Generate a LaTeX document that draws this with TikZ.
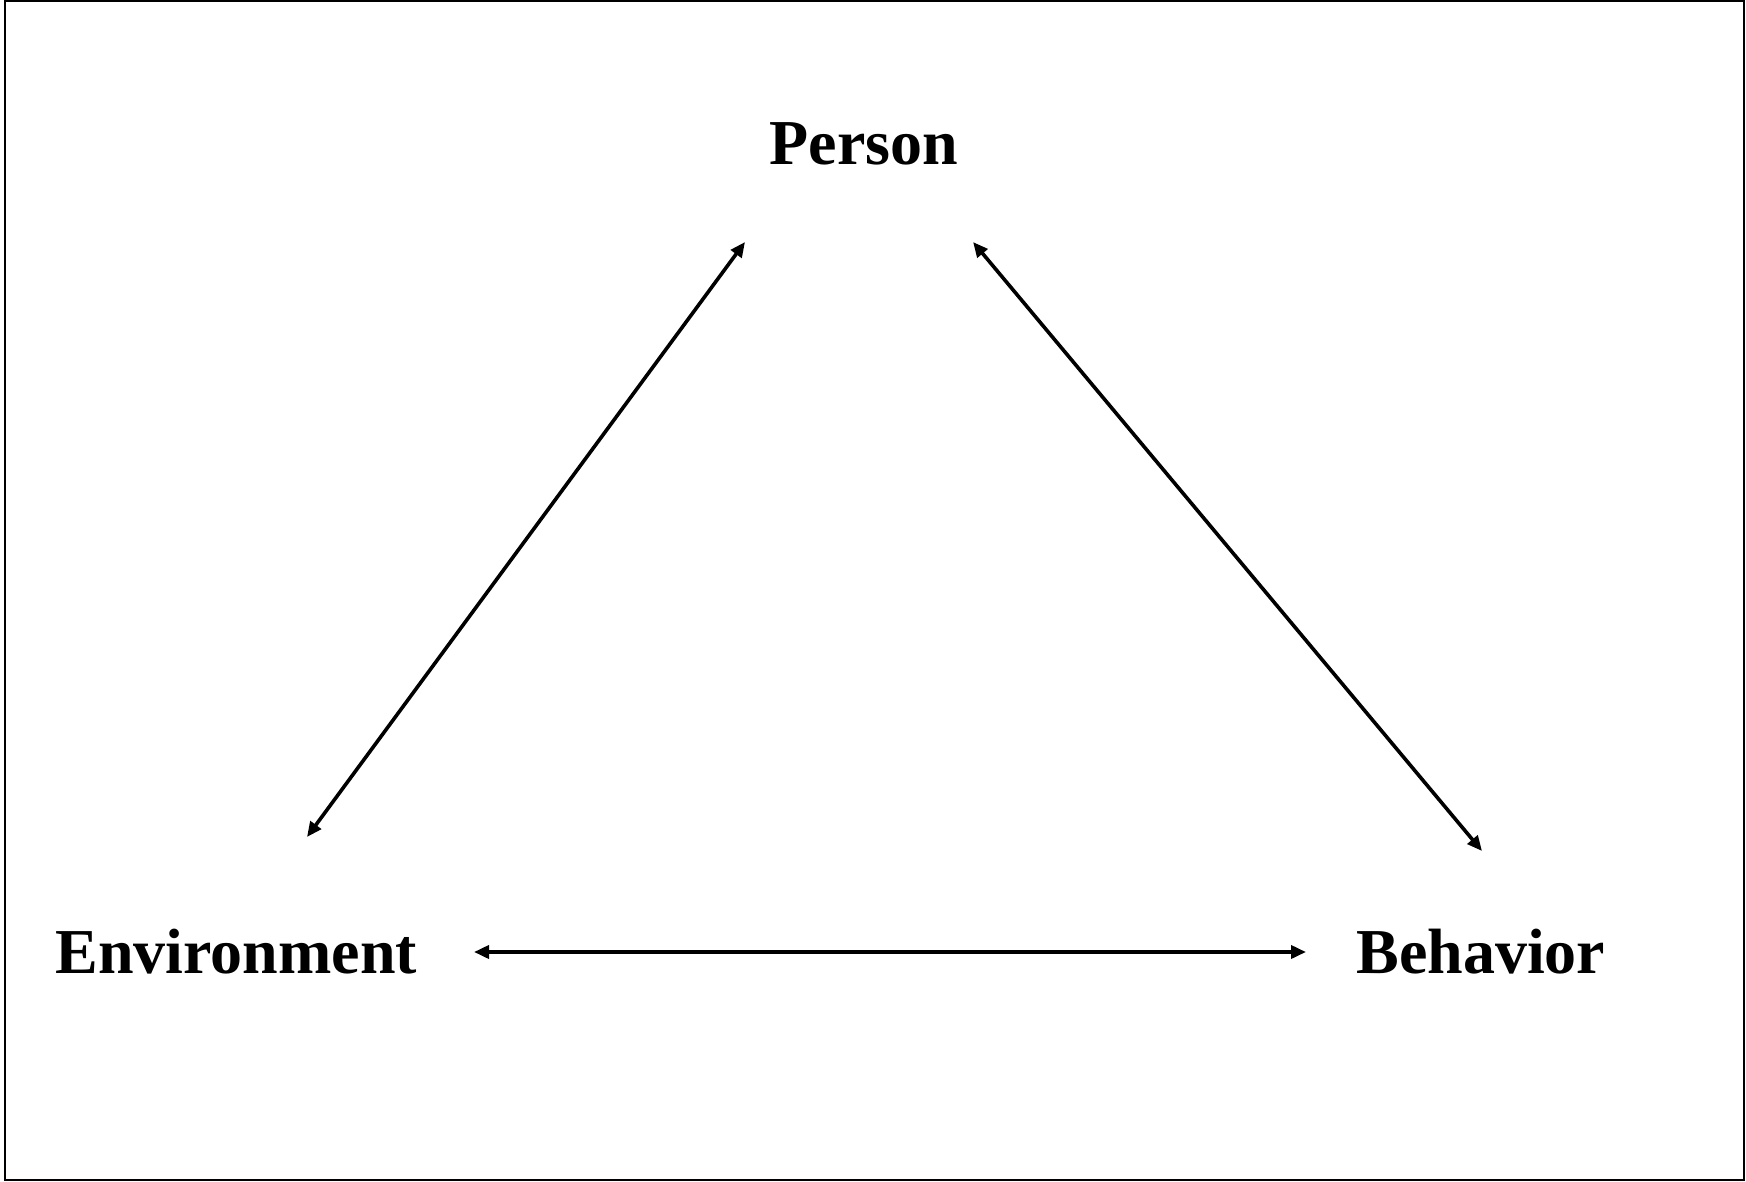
\documentclass[tikz,border=0pt]{standalone}
\usepackage{fontspec}
\setmainfont{Liberation Serif}
\usetikzlibrary{arrows.meta}
\begin{document}
\begin{tikzpicture}[x=0.5pt,y=-0.5pt,
  label/.style={font=\bfseries\fontsize{32}{38}\selectfont, inner sep=0pt},
  link/.style={line width=1.8pt, {Triangle[length=7.5pt,width=6.5pt]}-{Triangle[length=7.5pt,width=6.5pt]}}]
  \useasboundingbox (0,0) rectangle (1746,1182);
  \draw[line width=1pt] (5,1) rectangle (1744,1180);

  \node[label, anchor=base] (person) at (864,165) {Person};
  \node[label, anchor=base west] (env) at (55,973) {Environment};
  \node[label, anchor=base west] (beh) at (1356,973) {Behavior};

  \coordinate (envTop) at (307,837);
  \coordinate (personL) at (745,242);
  \coordinate (personR) at (973,242);
  \coordinate (behTop) at (1482,851);
  \coordinate (envR) at (474,952);
  \coordinate (behL) at (1306,952);

  \draw[link] (envTop) -- (personL);
  \draw[link] (personR) -- (behTop);
  \draw[link] (envR) -- (behL);
\end{tikzpicture}
\end{document}
